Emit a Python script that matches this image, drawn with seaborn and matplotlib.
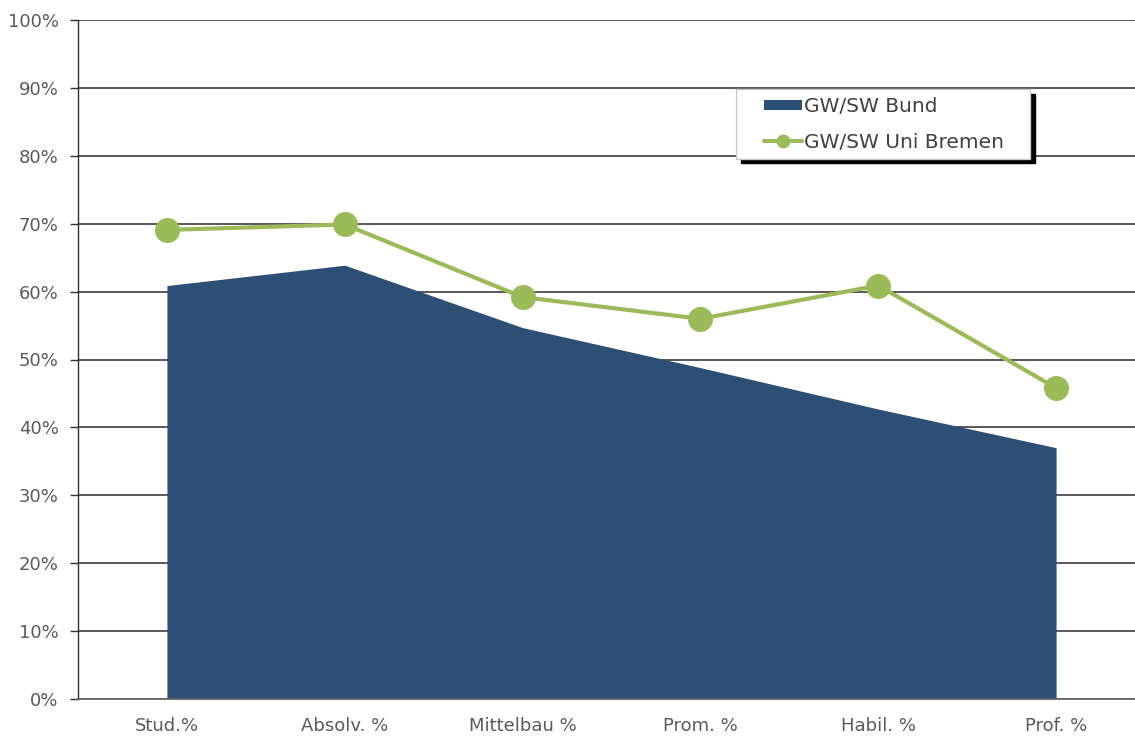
import numpy as np
import pandas as pd
import seaborn as sns
import matplotlib.pyplot as plt
from matplotlib.patches import Patch
from matplotlib.lines import Line2D
from matplotlib.legend_handler import HandlerPatch, HandlerLine2D

# data
categories = ["Stud.%", "Absolv. %", "Mittelbau %", "Prom. %", "Habil. %", "Prof. %"]
bund = [60.9, 63.9, 54.7, 48.8, 42.7, 37.0]
bremen = [69.1, 69.9, 59.2, 56.0, 60.9, 45.8]
ytick_labels = [f"{v}%" for v in range(0, 101, 10)]

df = pd.DataFrame({"cat": categories, "pos": np.arange(len(categories)),
                   "Bund": bund, "Bremen": bremen})

sns.set_style("white")
plt.rcParams['font.family'] = ['DejaVu Sans']

fig = plt.figure(figsize=(11.35, 7.37), dpi=100)
ax = fig.add_axes([78 / 1135, 38.3 / 737, 1067 / 1135, 678.4 / 737])

area_col = "#2D4E75"
line_col = "#9BBB59"

ax.fill_between(df["pos"], 0, df["Bund"], color=area_col, lw=0, zorder=2)
sns.lineplot(data=df, x="pos", y="Bremen", ax=ax, color=line_col, lw=3,
             marker="o", markersize=18, markeredgewidth=0, zorder=3)

ax.set_xlim(-0.5, 5.5)
ax.set_ylim(0, 100)
ax.set_yticks(range(0, 101, 10))
ax.set_yticklabels(ytick_labels)
ax.yaxis.grid(True, color="#2a2a2a", lw=1.1, zorder=1)
ax.set_axisbelow(True)

ax.set_xticks(df["pos"])
ax.set_xticklabels(categories)
ax.set_xticks(np.arange(-0.5, 6, 1), minor=True)
ax.tick_params(axis="x", which="major", length=0, pad=13, labelsize=13, labelcolor="#5a5a5a")
ax.tick_params(axis="x", which="minor", length=6, width=1, color="#303030", direction="out")
ax.tick_params(axis="y", length=6, width=1, color="#303030", direction="out",
               pad=8, labelsize=13, labelcolor="#5a5a5a", left=True)
ax.set_xlabel("")
ax.set_ylabel("")

for s in ["top", "right"]:
    ax.spines[s].set_visible(False)
ax.spines["left"].set_color("#303030")
ax.spines["left"].set_linewidth(1)
ax.spines["bottom"].set_color("#606060")
ax.spines["bottom"].set_linewidth(1.2)


def small_rect(legend, orig_handle, xdescent, ydescent, width, height, fontsize):
    return plt.Rectangle((-xdescent, -ydescent + height * 0.15), width, height * 0.7)


h_area = Patch(facecolor=area_col, edgecolor="none")
h_line = Line2D([], [], color=line_col, lw=3, marker="o", markersize=10, markeredgewidth=0)
leg = ax.legend([h_area, h_line], ["GW/SW Bund   ", "GW/SW Uni Bremen   "], loc="upper left",
                bbox_to_anchor=(0.617, 0.898), borderaxespad=0, fancybox=False,
                frameon=True, fontsize=14.5, labelcolor="#404040",
                handlelength=2.9, handletextpad=0.1, borderpad=0.36, labelspacing=0.85,
                handler_map={h_area: HandlerPatch(patch_func=small_rect, xpad=1.0),
                             h_line: HandlerLine2D(xpad=1.0)},
                shadow={"ox": 3, "oy": -3, "color": "black", "alpha": 1})
leg.get_frame().set_edgecolor("#c8c8c8")
leg.get_frame().set_linewidth(1)
leg.get_frame().set_facecolor("white")
leg.get_frame().set_alpha(1)

fig.savefig("out.png", dpi=100)
